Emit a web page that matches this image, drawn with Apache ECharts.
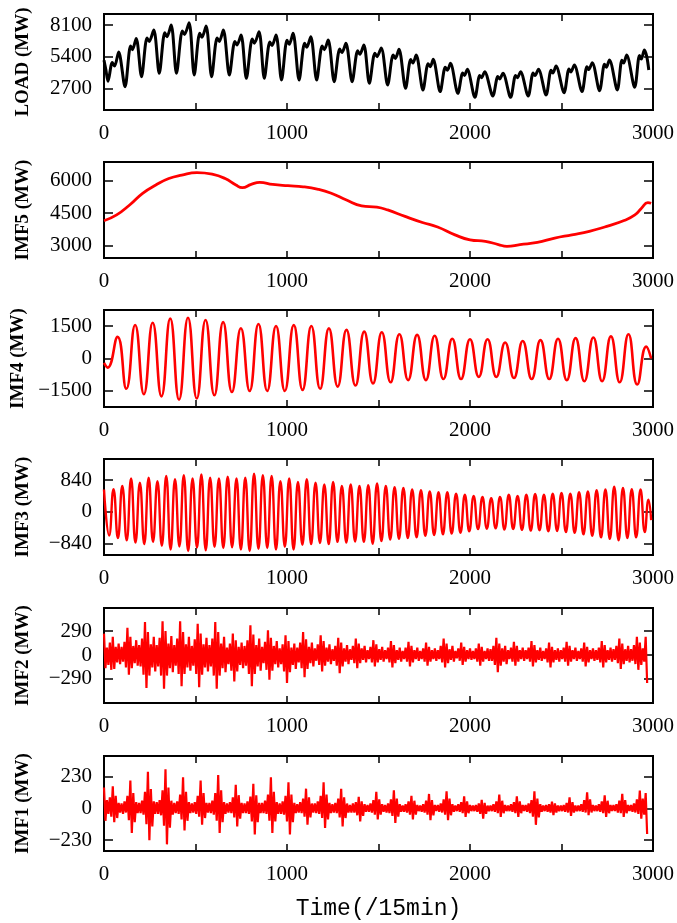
<!DOCTYPE html>
<html>
<head>
<meta charset="utf-8">
<script src="https://cdn.jsdelivr.net/npm/echarts@6/dist/echarts.min.js"></script>
<style>
html,body{margin:0;padding:0;background:#fff}
#chart{width:677px;height:923px}
</style>
</head>
<body>
<div id="chart"></div>
<script>
// x ticks (time index, 15 min steps)
var xLabels = [0, 1000, 2000, 3000];

// y tick labels per panel
var loadTicks = [2700, 5400, 8100];
var imf5Ticks = [3000, 4500, 6000];
var imf4Ticks = [-1500, 0, 1500];
var imf3Ticks = [-840, 0, 840];
var imf2Ticks = [-290, 0, 290];
var imf1Ticks = [-230, 0, 230];

// LOAD: troughs, shoulders, notches and peaks [t, MW]
var loadPts = [
  [0,5100],[10,4300],[22,3300],[45,4900],[58,4600],[80,5800],
  [115,2840],[145,6300],[155,6000],[176,6960],
  [205,3690],[235,7000],[247,6700],[272,7670],
  [302,3980],[332,7450],[344,7100],[367,8100],
  [396,3980],[428,7600],[440,7300],[465,8300],
  [493,3840],[523,7400],[535,7050],[558,8015],
  [588,3690],[618,7000],[630,6700],[652,7670],
  [685,3840],[715,6700],[727,6400],[749,7250],
  [778,3550],[810,6900],[822,6550],[847,7530],
  [876,3550],[906,6650],[918,6350],[940,7250],
  [970,3410],[1000,6800],[1012,6450],[1033,7390],
  [1066,3410],[1096,6550],[1108,6200],[1130,7100],
  [1162,3410],[1192,6300],[1204,6000],[1225,6820],
  [1258,3270],[1288,6050],[1300,5750],[1322,6540],
  [1356,3270],[1386,5900],[1398,5600],[1420,6400],
  [1450,3130],[1480,5700],[1492,5400],[1515,6150],
  [1550,2980],[1580,5550],[1592,5250],[1612,6025],
  [1648,2700],[1676,5150],[1688,4850],[1706,5540],
  [1743,2560],[1771,4800],[1783,4550],[1799,5170],
  [1837,2420],[1865,4500],[1877,4250],[1893,4830],
  [1934,2270],[1960,4000],[1970,3800],[1985,4320],
  [2027,1930],[2053,3800],[2063,3600],[2080,4120],
  [2125,2050],[2152,3700],[2162,3500],[2180,3980],
  [2222,1930],[2249,3800],[2259,3600],[2276,4120],
  [2318,2050],[2345,4000],[2355,3800],[2374,4320],
  [2416,2130],[2443,4250],[2453,4000],[2470,4600],
  [2514,2330],[2541,4350],[2551,4100],[2570,4690],
  [2612,2420],[2639,4550],[2649,4300],[2668,4890],
  [2708,2500],[2735,4750],[2745,4500],[2762,5120],
  [2805,2560],[2830,5100],[2840,4850],[2856,5540],
  [2900,2790],[2926,5500],[2936,5200],[2953,5970],
  [2966,5400],[2977,4260]
];

// IMF5 trend
var imf5Pts = [
  [0,4150],[69,4420],[140,4880],[211,5420],[283,5800],[354,6100],[425,6260],
  [508,6370],[591,6300],[662,6100],[721,5800],[756,5680],[804,5830],[851,5920],
  [922,5830],[1005,5770],[1088,5720],[1171,5600],[1242,5420],[1325,5110],
  [1408,4840],[1491,4780],[1550,4650],[1645,4350],[1740,4070],[1823,3860],
  [1918,3500],[2000,3270],[2084,3200],[2155,3050],[2202,2970],[2273,3050],
  [2368,3150],[2463,3350],[2557,3500],[2652,3660],[2747,3890],[2842,4160],
  [2901,4420],[2937,4730],[2972,4990],[2990,4960]
];

// IMF4 daily component: extrema
var imf4Pts = [
  [0,-200],[20,-420],[74,1000],[122,-1400],[170,1550],[218,-1650],[266,1650],
  [314,-1750],[362,1840],[410,-1900],[459,1880],[507,-1850],[555,1780],
  [603,-1700],[651,1680],[699,-1550],[748,1400],[796,-1500],[844,1590],
  [892,-1500],[940,1500],[988,-1500],[1037,1540],[1085,-1450],[1133,1500],
  [1181,-1400],[1229,1390],[1277,-1300],[1325,1320],[1374,-1250],[1422,1240],
  [1470,-1150],[1518,1210],[1566,-1100],[1614,1120],[1662,-1000],[1711,1090],
  [1759,-1000],[1807,1050],[1855,-950],[1903,910],[1951,-950],[2000,890],
  [2048,-850],[2096,890],[2144,-850],[2192,740],[2240,-900],[2288,810],
  [2337,-950],[2385,850],[2433,-950],[2481,910],[2529,-1000],[2577,940],
  [2625,-1050],[2674,970],[2722,-1050],[2770,1020],[2818,-1100],[2866,1120],
  [2914,-1200],[2963,550],[2990,0]
];

// IMF3 half-day component: extrema
var imf3Pts = [
  [0,590],[28,-630],[52,600],[76,-700],[100,680],[124,-760],[148,880],[172,-820],[196,770],[220,-860],
  [244,900],[268,-800],[292,810],[316,-900],[340,950],[364,-1000],[388,860],[412,-920],[436,970],[460,-1040],
  [484,880],[508,-950],[532,985],[556,-1020],[580,900],[604,-930],[628,880],[652,-960],[676,930],[700,-940],
  [724,880],[748,-1000],[772,900],[796,-1040],[820,1010],[844,-980],[868,965],[892,-960],[916,950],[940,-1000],
  [964,810],[988,-930],[1012,880],[1036,-1000],[1060,790],[1084,-880],[1108,860],[1132,-860],[1156,770],[1180,-830],
  [1204,720],[1228,-860],[1252,790],[1276,-800],[1300,680],[1324,-820],[1348,720],[1372,-790],[1396,680],[1420,-800],
  [1444,700],[1468,-850],[1492,750],[1516,-780],[1540,680],[1564,-740],[1588,650],[1612,-720],[1636,630],[1660,-700],
  [1684,590],[1708,-680],[1732,570],[1756,-640],[1780,540],[1804,-620],[1828,515],[1852,-600],[1876,515],[1900,-580],
  [1924,480],[1948,-560],[1972,450],[1996,-520],[2020,420],[2044,-460],[2068,390],[2092,-450],[2116,360],[2140,-440],
  [2164,390],[2188,-470],[2212,450],[2236,-460],[2260,420],[2284,-480],[2308,450],[2332,-500],[2356,470],[2380,-490],
  [2404,450],[2428,-520],[2452,480],[2476,-510],[2500,500],[2524,-540],[2548,480],[2572,-560],[2596,515],[2620,-600],
  [2644,540],[2668,-640],[2692,570],[2716,-680],[2740,590],[2764,-720],[2788,660],[2812,-760],[2836,630],[2860,-700],
  [2884,600],[2908,-680],[2932,590],[2955,-540],[2975,320],[2990,-225]
];

// IMF2 and IMF1: one value every 8 steps, 12 per day
var fastStep = 8;
var imf2Vals = [
  260,-160,90,-120,150,-180,220,-170,100,-90,140,-110,
  100,-80,160,-150,330,-240,220,-160,110,-100,180,-130,
  120,-140,200,-240,400,-400,280,-250,130,-150,220,-200,
  120,-140,210,-250,410,-410,290,-250,140,-160,230,-210,
  120,-130,200,-230,410,-380,280,-230,130,-150,220,-190,
  110,-130,190,-230,380,-390,260,-240,130,-150,210,-200,
  120,-140,200,-250,400,-410,280,-250,140,-160,220,-210,
  90,-110,140,-190,260,-320,180,-200,100,-120,150,-160,
  110,-130,180,-230,360,-380,250,-230,120,-140,200,-190,
  100,-100,160,-180,300,-300,210,-190,110,-110,170,-150,
  80,-110,130,-200,240,-340,170,-210,90,-120,140,-170,
  90,-90,150,-160,280,-270,190,-170,100,-100,150,-140,
  80,-70,130,-120,240,-200,170,-130,90,-80,130,-110,
  70,-70,110,-130,210,-220,150,-140,80,-80,120,-110,
  70,-60,110,-100,200,-160,140,-100,80,-60,110,-90,
  60,-50,100,-90,180,-140,130,-90,70,-60,100,-80,
  60,-50,90,-90,170,-150,120,-100,60,-60,90,-80,
  50,-50,90,-80,160,-140,110,-90,60,-50,90,-70,
  50,-50,80,-80,150,-130,100,-80,60,-50,80,-70,
  60,-50,110,-90,200,-150,140,-100,70,-60,110,-80,
  50,-40,80,-70,150,-120,100,-80,60,-50,80,-60,
  50,-50,80,-80,140,-130,100,-80,50,-50,80,-70,
  70,-70,110,-120,210,-210,140,-130,80,-80,110,-110,
  60,-50,90,-80,160,-130,110,-80,60,-50,90,-70,
  60,-50,90,-80,170,-140,120,-90,60,-60,90,-70,
  50,-50,80,-90,150,-150,100,-90,60,-60,80,-80,
  60,-50,90,-80,160,-130,110,-80,60,-50,90,-70,
  50,-50,80,-80,150,-140,100,-90,60,-50,80,-70,
  60,-60,90,-90,170,-150,120,-90,60,-60,90,-80,
  70,-60,110,-100,200,-170,140,-110,70,-70,110,-90,
  70,-70,120,-110,220,-180,150,-120,80,-80,220,-340
];
var imf1Vals = [
  150,-90,60,-40,80,-60,160,-100,90,-70,40,-30,
  35,-40,50,-30,90,-85,200,-177,110,-100,45,-35,
  40,-35,55,-45,120,-115,264,-231,140,-130,50,-40,
  45,-40,60,-50,130,-125,283,-260,150,-140,55,-45,
  40,-35,50,-40,100,-80,224,-160,120,-90,45,-35,
  35,-30,45,-40,90,-60,200,-118,110,-70,40,-30,
  40,-35,55,-45,110,-90,240,-177,130,-100,45,-40,
  35,-30,45,-35,80,-65,170,-130,95,-75,40,-35,
  35,-35,50,-40,85,-95,177,-189,95,-100,40,-35,
  40,-35,55,-40,100,-90,224,-177,120,-95,45,-40,
  35,-40,50,-45,90,-95,189,-189,100,-100,40,-35,
  30,-30,45,-35,70,-60,142,-118,80,-65,35,-30,
  35,-35,50,-40,90,-70,189,-142,100,-80,40,-35,
  30,-30,40,-35,70,-65,142,-130,80,-70,35,-30,
  25,-30,35,-30,45,-50,83,-94,50,-55,30,-25,
  25,-25,35,-30,60,-45,120,-80,65,-45,30,-25,
  25,-30,35,-35,65,-55,130,-105,70,-60,30,-25,
  20,-25,30,-30,50,-45,90,-80,55,-45,25,-20,
  20,-25,30,-30,55,-45,104,-86,60,-50,25,-20,
  25,-25,35,-30,65,-45,123,-86,70,-50,30,-25,
  20,-20,30,-25,45,-35,86,-62,50,-35,25,-20,
  20,-20,25,-25,35,-40,62,-74,40,-40,20,-20,
  20,-20,30,-25,50,-35,99,-62,55,-35,25,-20,
  20,-20,30,-25,45,-35,86,-62,50,-35,25,-20,
  25,-25,35,-35,60,-60,123,-119,70,-65,30,-25,
  20,-20,25,-25,30,-30,49,-49,35,-30,20,-20,
  20,-20,25,-25,40,-30,79,-54,45,-30,20,-20,
  20,-20,30,-25,60,-30,116,-49,65,-30,25,-20,
  20,-20,30,-25,50,-35,94,-62,55,-35,25,-20,
  25,-20,30,-30,55,-35,104,-62,60,-35,25,-20,
  25,-25,35,-30,65,-40,128,-74,70,-45,110,-185
];

function toPairs(vals) {
  return vals.map(function (v, i) { return [i * fastStep, v]; });
}

var serif = 'Liberation Serif';
var red = '#ff0000';
var panels = [
  {name: 'LOAD (MW)', ticks: loadTicks, min: 850, max: 9040, data: loadPts, color: '#000', width: 3, smooth: 0.3},
  {name: 'IMF5 (MW)', ticks: imf5Ticks, min: 2430, max: 6865, data: imf5Pts, color: red, width: 2.8, smooth: 0.5},
  {name: 'IMF4 (MW)', ticks: imf4Ticks, min: -2240, max: 2240, data: imf4Pts, color: red, width: 2.6, smooth: 0.5},
  {name: 'IMF3 (MW)', ticks: imf3Ticks, min: -1147, max: 1397, data: imf3Pts, color: red, width: 2.4, smooth: 0.5},
  {name: 'IMF2 (MW)', ticks: imf2Ticks, min: -583, max: 571, data: toPairs(imf2Vals), color: red, width: 2.2, smooth: false},
  {name: 'IMF1 (MW)', ticks: imf1Ticks, min: -308, max: 378, data: toPairs(imf1Vals), color: red, width: 2.2, smooth: false}
];
var tops = [14, 162, 310, 459, 608, 756];
var heights = [96, 96, 97, 96, 95, 95];

function fmtY(v) { return v < 0 ? '\u2212' + Math.abs(v) : String(v); }
function fmtX(v) { return String(v); }

var grid = [], xAxis = [], yAxis = [], series = [];
panels.forEach(function (p, i) {
  grid.push({left: 104, width: 550, top: tops[i], height: heights[i], show: true,
    borderColor: '#000', borderWidth: 2});
  xAxis.push({type: 'value', gridIndex: i, min: 0, max: 3000, interval: 500, position: 'bottom',
    axisLine: {show: false, onZero: false}, splitLine: {show: false},
    axisTick: {inside: true, length: 7, lineStyle: {color: '#000', width: 1.5}},
    axisLabel: {customValues: xLabels, formatter: fmtX, margin: 13, color: '#000', fontFamily: serif, fontSize: 21},
    name: i === 5 ? 'Time(/15min)' : '', nameLocation: 'middle', nameGap: 46,
    nameTextStyle: {fontFamily: 'Liberation Mono', fontSize: 23, color: '#000'}});
  yAxis.push({type: 'value', gridIndex: i, min: p.min, max: p.max, position: 'left',
    axisLine: {show: false, onZero: false}, splitLine: {show: false},
    axisTick: {inside: true, length: 9, customValues: p.ticks, lineStyle: {color: '#000', width: 1.5}},
    axisLabel: {customValues: p.ticks, formatter: fmtY, margin: 12, color: '#000', fontFamily: serif, fontSize: 21},
    name: p.name, nameLocation: 'middle', nameGap: 71,
    nameTextStyle: {fontFamily: serif, fontWeight: 'bold', fontSize: 19, color: '#000'}});
  series.push({type: 'line', xAxisIndex: i, yAxisIndex: i, data: p.data, showSymbol: false,
    smooth: p.smooth, lineStyle: {color: p.color, width: p.width}, silent: true});
});
// mirrored ticks on top and right edges
panels.forEach(function (p, i) {
  xAxis.push({type: 'value', gridIndex: i, min: 0, max: 3000, interval: 500, position: 'top',
    axisLine: {show: false, onZero: false}, splitLine: {show: false}, axisLabel: {show: false},
    axisTick: {inside: true, length: 7, lineStyle: {color: '#000', width: 1.5}}});
  yAxis.push({type: 'value', gridIndex: i, min: p.min, max: p.max, position: 'right',
    axisLine: {show: false, onZero: false}, splitLine: {show: false}, axisLabel: {show: false},
    axisTick: {inside: true, length: 9, customValues: p.ticks, lineStyle: {color: '#000', width: 1.5}}});
});

var myChart = echarts.init(document.getElementById('chart'));
myChart.setOption({
  animation: false,
  backgroundColor: '#fff',
  grid: grid,
  xAxis: xAxis,
  yAxis: yAxis,
  series: series
});
</script>
</body>
</html>
